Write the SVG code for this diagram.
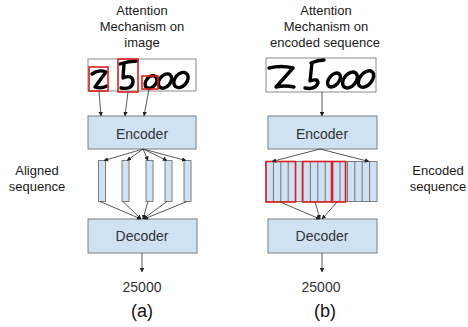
<svg xmlns="http://www.w3.org/2000/svg" width="468" height="327" viewBox="0 0 468 327">
<defs>
<marker id="ah" viewBox="0 0 6 6" refX="5.5" refY="3" markerWidth="4.5" markerHeight="4.5" orient="auto" markerUnits="userSpaceOnUse">
<path d="M0,0 L6,3 L0,6 z" fill="#222"/>
</marker>
<style>
.lbl{font-family:"Liberation Sans",Arial,sans-serif;font-size:13px;fill:#1a1a1a;text-anchor:middle}
.box{fill:#cfe2f3;stroke:#7f7f7f;stroke-width:1}
.bt{font-family:"Liberation Sans",Arial,sans-serif;font-size:14px;fill:#333;text-anchor:middle}
.img{fill:#fff;stroke:#8a8a8a;stroke-width:1}
.hw{fill:none;stroke:#000;stroke-width:3.4;stroke-linecap:round;stroke-linejoin:round}
.red{fill:none;stroke:#e02020;stroke-width:1.6}
.ar{stroke:#444;stroke-width:0.9;fill:none;marker-end:url(#ah)}
.ln{stroke:#666;stroke-width:0.9;fill:none}
.cap{font-family:"Liberation Sans",Arial,sans-serif;font-size:18px;fill:#111;text-anchor:middle}
</style>
</defs>
<rect width="468" height="327" fill="#fff"/>

<!-- Panel (a) -->
<g id="title-a">
<text class="lbl" x="142" y="15">Attention</text>
<text class="lbl" x="142" y="31">Mechanism on</text>
<text class="lbl" x="142" y="47">image</text>
</g>
<g id="image-a">
<rect class="img" x="88" y="59" width="108" height="32"/>
<path class="hw" d="M92,74 Q99,69 106,72 L95,87 Q101,89 107,86"/>
<path class="hw" d="M120,64 Q129,61 137,61 M124,64 L123,78 Q133,74 133,82 Q132,90 121,88"/>
<ellipse class="hw" cx="151" cy="82" rx="5" ry="7" transform="rotate(40 151 82)"/>
<ellipse class="hw" cx="165" cy="81" rx="5.5" ry="8" transform="rotate(40 165 81)"/>
<ellipse class="hw" cx="181" cy="80" rx="6" ry="8.5" transform="rotate(40 181 80)"/>
<rect class="red" x="89" y="67" width="19" height="24"/>
<rect class="red" x="118" y="59" width="20" height="33"/>
<rect class="red" x="142" y="76" width="16" height="13"/>
</g>
<g id="encoder-a">
<rect class="box" x="88" y="116" width="108" height="33"/>
<text class="bt" x="142" y="139">Encoder</text>
</g>
<g id="aligned-seq">
<rect class="box" x="98.5" y="160.5" width="7" height="41"/>
<rect class="box" x="122" y="160.5" width="7" height="41"/>
<rect class="box" x="146" y="160.5" width="7" height="41"/>
<rect class="box" x="165" y="160.5" width="7" height="41"/>
<rect class="box" x="184" y="160.5" width="7" height="41"/>
</g>
<g id="aligned-label">
<text class="lbl" x="37" y="175">Aligned</text>
<text class="lbl" x="37" y="191">sequence</text>
</g>
<g id="decoder-a">
<rect class="box" x="88" y="219" width="109" height="34"/>
<text class="bt" x="142" y="241">Decoder</text>
</g>
<g id="out-a">
<text class="bt" x="142" y="292">25000</text>
<text class="cap" x="142" y="317">(a)</text>
</g>

<!-- Panel (b) -->
<g id="title-b">
<text class="lbl" x="326" y="15">Attention</text>
<text class="lbl" x="326" y="31">Mechanism on</text>
<text class="lbl" x="325" y="47">encoded sequence</text>
</g>
<g id="image-b">
<rect class="img" x="266" y="58" width="110" height="34"/>
<path class="hw" d="M269,68 Q281,65 293,68 L276,87 Q285,85 294,87"/>
<path class="hw" d="M311,63 Q318,60 324,60 M312,63 L310,81 Q318,78 318,83 Q315,90 305,88"/>
<ellipse class="hw" cx="334" cy="80" rx="5" ry="8" transform="rotate(40 334 80)"/>
<ellipse class="hw" cx="350" cy="80" rx="6" ry="9" transform="rotate(40 350 80)"/>
<ellipse class="hw" cx="366" cy="79" rx="6" ry="9.5" transform="rotate(40 366 79)"/>
</g>
<g id="encoder-b">
<rect class="box" x="268" y="116" width="109" height="33"/>
<text class="bt" x="322" y="139">Encoder</text>
</g>
<g id="encoded-seq">
<rect class="box" x="266" y="161.5" width="111" height="40"/>
<path class="ln" d="M273.4,161.5V201.5M280.8,161.5V201.5M288.2,161.5V201.5M295.6,161.5V201.5M303,161.5V201.5M310.4,161.5V201.5M317.8,161.5V201.5M325.2,161.5V201.5M332.6,161.5V201.5M340,161.5V201.5M347.4,161.5V201.5M354.8,161.5V201.5M362.2,161.5V201.5M369.6,161.5V201.5"/>
<rect class="red" x="266" y="161.5" width="29.5" height="40.5"/>
<rect class="red" x="302.5" y="161.5" width="29" height="40.5"/>
<rect class="red" x="332.5" y="161.5" width="13" height="40.5"/>
</g>
<g id="encoded-label">
<text class="lbl" x="438" y="175">Encoded</text>
<text class="lbl" x="438" y="191">sequence</text>
</g>
<g id="decoder-b">
<rect class="box" x="268" y="219" width="109" height="34"/>
<text class="bt" x="322" y="241">Decoder</text>
</g>
<g id="out-b">
<text class="bt" x="321" y="292">25000</text>
<text class="cap" x="325" y="317">(b)</text>
</g>

<!-- Connectors -->
<g id="connectors">
<path class="ar" d="M99,91 L101,116"/>
<path class="ar" d="M128,92 L125,116"/>
<path class="ar" d="M149,89 L144,116"/>
<path class="ar" d="M143,149 L104,160.5"/>
<path class="ar" d="M143,149 L127,160.5"/>
<path class="ar" d="M143,149 L148,160.5"/>
<path class="ar" d="M143,149 L167,160.5"/>
<path class="ar" d="M143,149 L186,160.5"/>
<path class="ar" d="M100,201.5 L141,219"/>
<path class="ar" d="M123,201.5 L141,219"/>
<path class="ar" d="M148,201.5 L143,219"/>
<path class="ar" d="M167,201.5 L143,219"/>
<path class="ar" d="M187,201.5 L144,219"/>
<path class="ar" d="M142,253 L142,272"/>
<path class="ar" d="M322,92 L322,116"/>
<path class="ar" d="M320,149 L272,161.5"/>
<path class="ar" d="M320,149 L369,161.5"/>
<path class="ar" d="M280,202 L320,219"/>
<path class="ar" d="M315,202 L320,219"/>
<path class="ar" d="M337,202 L322,219"/>
<path class="ar" d="M322,253 L322,272"/>
</g>
</svg>
